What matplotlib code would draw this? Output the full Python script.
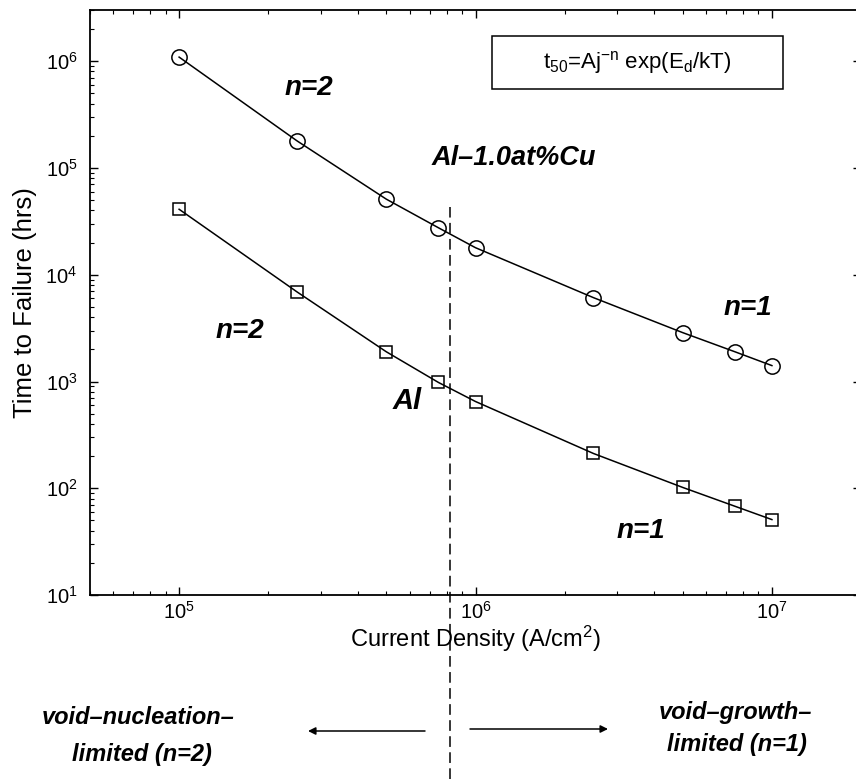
import matplotlib
matplotlib.use('Agg')
import matplotlib.pyplot as plt
from matplotlib.patches import FancyArrowPatch, Rectangle

plt.rcParams['font.family'] = ['Liberation Sans', 'DejaVu Sans']
plt.rcParams['mathtext.fontset'] = 'custom'
plt.rcParams['mathtext.rm'] = 'Liberation Sans'
plt.rcParams['mathtext.it'] = 'Liberation Sans:italic'
plt.rcParams['mathtext.bf'] = 'Liberation Sans:bold'

# Datos
j = [1e5, 2.5e5, 5e5, 7.5e5, 1e6, 2.5e6, 5e6, 7.5e6, 1e7]
t_alcu = [1.09e6, 1.79e5, 5.1e4, 2.75e4, 1.79e4, 6.1e3, 2.87e3, 1.9e3, 1.41e3]
t_al = [4.1e4, 6.9e3, 1.9e3, 980, 650, 212, 102, 68, 51]
j_transicion = 8.2e5

fig = plt.figure(figsize=(8.56, 7.79), dpi=100)
ax = fig.add_axes([0.105, 0.236, 0.901, 0.751])

ax.plot(j, t_alcu, '-', color='black', lw=1.1, marker='o', ms=11,
        mfc='none', mec='black', mew=1.1)
ax.plot(j, t_al, '-', color='black', lw=1.1, marker='s', ms=9,
        mfc='none', mec='black', mew=1.1)

ax.set_xscale('log')
ax.set_yscale('log')
ax.set_xlim(5e4, 2e7)
ax.set_ylim(10, 3e6)

# linea de transicion que baja por debajo del eje
ax.axvline(j_transicion, ymin=-0.315, ymax=0.663, color='black', lw=1.1,
           ls=(0, (7, 3.5)), clip_on=False)

ax.tick_params(which='both', direction='in', top=True, right=True, labelsize=14.5)
ax.tick_params(axis='y', pad=9)
ax.tick_params(axis='x', pad=4)
ax.tick_params(which='major', length=6, width=1)
ax.tick_params(which='minor', length=3, width=0.8)
for s in ax.spines.values():
    s.set_linewidth(1.3)

ax.set_xlabel('Current Density (A/cm$^2$)', fontsize=17, labelpad=1)
ax.set_ylabel('Time to Failure (hrs)', fontsize=18.5, labelpad=6)

bi = dict(fontsize=20, fontweight='bold', fontstyle='italic', ha='center', va='center')
ax.text(2.75e5, 5.6e5, 'n=2', **bi)
ax.text(1.6e5, 3.0e3, 'n=2', **bi)
ax.text(8.3e6, 4.9e3, 'n=1', **bi)
ax.text(3.6e6, 40, 'n=1', **bi)
ax.text(5.9e5, 660, 'Al', fontsize=21, fontweight='bold', fontstyle='italic',
        ha='center', va='center')
ax.text(7.1e5, 1.24e5, 'Al\u20131.0at%Cu', fontsize=19.5, fontweight='bold',
        fontstyle='italic', ha='left', va='center')

# recuadro con la ecuacion
ax.add_patch(Rectangle((0.521, 0.865), 0.378, 0.091, transform=ax.transAxes,
                       fill=False, ec='black', lw=1.1))
ax.text(0.710, 0.911, r't$_{50}$=Aj$^{-\mathrm{n}}$ exp(E$_{\mathrm{d}}$/kT)',
        transform=ax.transAxes, fontsize=16, ha='center', va='center')

# anotaciones de abajo
bt = dict(fontsize=17, fontweight='bold', fontstyle='italic', ha='center', va='center')
fig.text(138 / 856, 1 - 718 / 779, 'void\u2013nucleation\u2013', **bt)
fig.text(142 / 856, 1 - 755 / 779, 'limited (n=2)', **bt)
fig.text(735 / 856, 1 - 712 / 779, 'void\u2013growth\u2013', **bt)
fig.text(737 / 856, 1 - 745 / 779, 'limited (n=1)', **bt)

ap = dict(arrowstyle='-|>', color='black', lw=1.1, mutation_scale=11)
fig.add_artist(FancyArrowPatch((425 / 856, 1 - 731 / 779), (308 / 856, 1 - 731 / 779),
               transform=fig.transFigure, shrinkA=0, shrinkB=0, **ap))
fig.add_artist(FancyArrowPatch((470 / 856, 1 - 729 / 779), (608 / 856, 1 - 729 / 779),
               transform=fig.transFigure, shrinkA=0, shrinkB=0, **ap))

fig.savefig('out.png', dpi=100)
